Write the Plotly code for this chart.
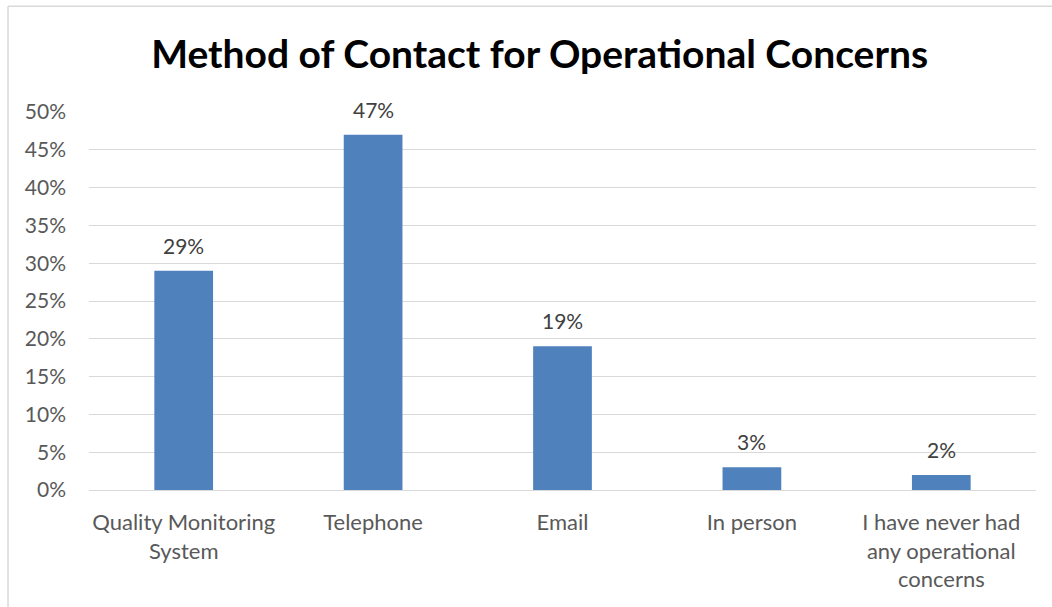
import plotly.graph_objects as go

categories = [
    "Quality Monitoring<br>System",
    "Telephone",
    "Email",
    "In person",
    "I have never had<br>any operational<br>concerns",
]
shares = [29, 47, 19, 3, 2]
tick_values = [0, 5, 10, 15, 20, 25, 30, 35, 40, 45, 50]
tick_labels = [f"{v}%" for v in tick_values]

FONT = "Lato, 'Open Sans', sans-serif"
BAR = "#4f81bd"
GREY = "#595959"

fig = go.Figure(
    go.Bar(
        x=categories,
        y=shares,
        marker=dict(color=BAR, line=dict(width=0)),
        hoverinfo="skip",
    )
)

# value labels sitting above each bar
for cat, val in zip(categories, shares):
    fig.add_annotation(
        x=cat, y=val, text=f"{val}%", showarrow=False,
        yanchor="bottom", yshift=11,
        font=dict(family=FONT, size=21, color="#404040"),
    )

fig.update_layout(
    width=1052,
    height=607,
    margin=dict(l=89, r=16, t=112, b=117),
    paper_bgcolor="white",
    plot_bgcolor="white",
    bargap=0.69,
    showlegend=False,
    title=dict(
        text="<b>Method of Contact for Operational Concerns</b>",
        x=0.513,
        xanchor="center",
        y=0.91,
        yanchor="middle",
        font=dict(family=FONT, size=39, color="black"),
    ),
    xaxis=dict(
        showgrid=False,
        showline=False,
        ticks="",
        ticklabelstandoff=17,
        tickfont=dict(family=FONT, size=22, color=GREY),
        fixedrange=True,
    ),
    yaxis=dict(
        range=[0, 50],
        tickvals=tick_values,
        ticktext=tick_labels,
        showgrid=True,
        gridcolor="#d9d9d9",
        gridwidth=1.3,
        zeroline=True,
        zerolinecolor="#d9d9d9",
        zerolinewidth=1.3,
        showline=False,
        ticks="",
        ticklabelstandoff=22,
        tickfont=dict(family=FONT, size=21, color=GREY),
        fixedrange=True,
    ),
    shapes=[
        dict(type="line", xref="paper", yref="paper", x0=-0.0855, x1=1.02, y0=1.28, y1=1.28,
             line=dict(color="#d9d9d9", width=1.5)),
        dict(type="line", xref="paper", yref="paper", x0=-0.0855, x1=-0.0855, y0=1.28, y1=-0.32,
             line=dict(color="#d9d9d9", width=1.5)),
    ],
)

fig.write_html("out.html")
